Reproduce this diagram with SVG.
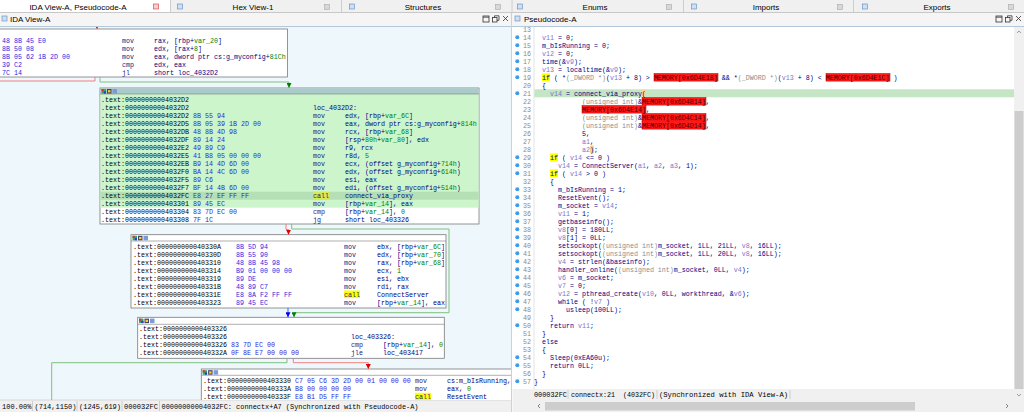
<svg xmlns="http://www.w3.org/2000/svg" width="1024" height="412" viewBox="0 0 1024 412">
<defs>
<style>
.m{font-family:"Liberation Mono","DejaVu Sans Mono",monospace;font-size:6.67px;white-space:pre}
.st{font-family:"Liberation Mono","DejaVu Sans Mono",monospace;font-size:7px;fill:#000;white-space:pre}
.s{font-family:"Liberation Sans","Noto Sans",sans-serif;font-size:8px;fill:#000}
.ad{fill:#000}
.hx{fill:#2a2ae0}
.mn{fill:#22227a}
.op{fill:#000080}
.gr{fill:#008000}
.nb{fill:#000080}
.lv{fill:#7878c8}
.ty{fill:#8c8c8c}
.mem{fill:#4a0000}
.ln{fill:#8a8a8a}
.blk{fill:#fff;stroke:#7a7a7a;stroke-width:0.8}
.hl{stroke:#7a7a7a;stroke-width:0.6}
.dot{fill:#3d9be9}
.cR{fill:none;stroke:#f08080;stroke-width:1}
.cG{fill:none;stroke:#80c080;stroke-width:1}
.cB{fill:none;stroke:#4060ff;stroke-width:1}
.memr{fill:#ff1a1a;stroke:#b00000;stroke-width:0.5}
.yl{fill:#ffff00}
.br{fill:#ffd090}
.cls{fill:#d8d8d8;stroke:#a8a8a8;stroke-width:0.6}
.tic{fill:#cfe0f4;stroke:#5a86c0;stroke-width:0.6}
.wi{fill:none;stroke:#333;stroke-width:0.8}
.sep{stroke:#c4c4c4;stroke-width:0.8}
</style>
<marker id="aR" markerWidth="6" markerHeight="5" refX="5" refY="2.5" orient="auto" markerUnits="userSpaceOnUse"><path d="M0,0L5,2.5L0,5z" fill="#e00000"/></marker>
<marker id="aG" markerWidth="6" markerHeight="5" refX="5" refY="2.5" orient="auto" markerUnits="userSpaceOnUse"><path d="M0,0L5,2.5L0,5z" fill="#008000"/></marker>
<marker id="aB" markerWidth="6" markerHeight="5" refX="5" refY="2.5" orient="auto" markerUnits="userSpaceOnUse"><path d="M0,0L5,2.5L0,5z" fill="#0000ff"/></marker>
<g id="hi"><rect x="0" y="0" width="4.5" height="4.5" fill="#3a6"/><rect x="0" y="0" width="2.2" height="2.2" fill="#d33"/><rect x="2.3" y="2.3" width="2.2" height="2.2" fill="#33d"/><rect x="5.5" y="0" width="4.5" height="4.5" fill="#446"/><rect x="6.5" y="1.2" width="2.5" height="2.2" fill="#fc3"/><rect x="11" y="0" width="4.5" height="4.5" fill="#7a9ad8"/></g>
<clipPath id="clipL"><rect x="0" y="27" width="511" height="373"/></clipPath>
</defs>

<g id="tabs">
<rect x="0" y="0" width="1024" height="13" fill="#f0f0f0"/>
<rect x="0" y="0" width="170" height="13" fill="#fff"/>
<line class="sep" x1="170.5" y1="0" x2="170.5" y2="12"/>
<line class="sep" x1="341.5" y1="0" x2="341.5" y2="12"/>
<line class="sep" x1="512" y1="0" x2="512" y2="12"/>
<line class="sep" x1="683.5" y1="0" x2="683.5" y2="12"/>
<line class="sep" x1="853.5" y1="0" x2="853.5" y2="12"/>
<line x1="0" y1="12.5" x2="1024" y2="12.5" stroke="#c8c8c8" stroke-width="1"/>
<text class="s" x="78" y="10" text-anchor="middle">IDA View-A, Pseudocode-A</text>
<rect x="153.5" y="4" width="5" height="5" fill="#f6d0d0" stroke="#e05050" stroke-width="0.7"/>
<rect class="tic" x="177.5" y="4" width="5" height="5"/>
<text class="s" x="253" y="10" text-anchor="middle">Hex View-1</text>
<rect class="cls" x="324.5" y="4.5" width="5" height="5"/>
<rect class="tic" x="349.5" y="4" width="5" height="5"/>
<text class="s" x="423" y="10" text-anchor="middle">Structures</text>
<rect class="cls" x="495.5" y="4.5" width="5" height="5"/>
<rect class="tic" x="517.5" y="4" width="5" height="5"/>
<text class="s" x="595" y="10" text-anchor="middle">Enums</text>
<rect class="cls" x="666.5" y="4.5" width="5" height="5"/>
<rect class="tic" x="691.5" y="4" width="5" height="5"/>
<text class="s" x="766" y="10" text-anchor="middle">Imports</text>
<rect class="cls" x="837.5" y="4.5" width="5" height="5"/>
<rect class="tic" x="862.5" y="4" width="5" height="5"/>
<text class="s" x="937" y="10" text-anchor="middle">Exports</text>
<rect class="cls" x="1008.5" y="4.5" width="5" height="5"/>
</g>

<g id="panel-left">
<rect x="0" y="13" width="511" height="14" fill="#f5f5f5"/>
<line x1="0" y1="26.5" x2="511" y2="26.5" stroke="#b4c8dc" stroke-width="1"/>
<rect class="tic" x="2" y="16" width="5" height="5"/>
<text class="s" x="10" y="21.6">IDA View-A</text>
<rect class="wi" x="483" y="16" width="6" height="6"/><line class="wi" x1="483" y1="17.2" x2="489" y2="17.2"/>
<rect class="wi" x="492.5" y="17.5" width="4.5" height="4.5"/><path class="wi" d="M494.5,17.5V15.8H499V20.3H497"/>
<path class="wi" d="M503,16L508,21M508,16L503,21"/>
<rect x="0" y="27" width="511" height="373" fill="#eef7fc"/>
<rect x="0" y="400" width="511" height="12" fill="#f0f0f0"/>
<line x1="0" y1="400" x2="511" y2="400" stroke="#d0d0d0" stroke-width="0.8"/>
<text class="st" x="2" y="408.6">100.00%</text>
<line class="sep" x1="32.5" y1="401" x2="32.5" y2="411"/>
<text class="st" x="34.5" y="408.6">(714,1150)</text>
<line class="sep" x1="77" y1="401" x2="77" y2="411"/>
<text class="st" x="79" y="408.6">(1245,619)</text>
<line class="sep" x1="122" y1="401" x2="122" y2="411"/>
<text class="st" x="124" y="408.6" textLength="34" lengthAdjust="spacingAndGlyphs">000032FC</text>
<line class="sep" x1="159.5" y1="401" x2="159.5" y2="411"/>
<text class="st" x="161.5" y="408.6" textLength="257" lengthAdjust="spacingAndGlyphs">00000000004032FC: connectx+A7 (Synchronized with Pseudocode-A)</text>
<line x1="511.5" y1="13" x2="511.5" y2="412" stroke="#d0d0d0" stroke-width="1"/>
</g>

<g clip-path="url(#clipL)">
<g id="node-4032C6">
<rect class="blk" x="-2" y="29" width="289.5" height="48"/>
<text class="m hx" x="2" y="42.8">48 8B 45 E0</text><text class="m mn" x="122" y="42.8">mov</text><text class="m op" x="154" y="42.8">rax, [rbp+<tspan class="gr">var_20</tspan>]</text>
<text class="m hx" x="2" y="50.8">8B 50 08</text><text class="m mn" x="122" y="50.8">mov</text><text class="m op" x="154" y="50.8">edx, [rax+<tspan class="gr">8</tspan>]</text>
<text class="m hx" x="2" y="58.8">8B 05 62 1B 2D 00</text><text class="m mn" x="122" y="58.8">mov</text><text class="m op" x="154" y="58.8">eax, dword ptr cs:g_myconfig+<tspan class="gr">81Ch</tspan></text>
<text class="m hx" x="2" y="66.8">39 C2</text><text class="m mn" x="122" y="66.8">cmp</text><text class="m op" x="154" y="66.8">edx, eax</text>
<text class="m hx" x="2" y="74.8">7C 14</text><text class="m mn" x="122" y="74.8">jl</text><text class="m op" x="154" y="74.8">short loc_4032D2</text>
</g>

<g id="node-4032D2">
<rect class="blk" x="100" y="88" width="379" height="136"/>
<rect x="100.4" y="94" width="378.2" height="113.7" fill="#ccf5cc"/>
<rect x="100.4" y="191.7" width="378.2" height="8" fill="#b5dfb5"/>
<rect x="100.4" y="88.4" width="378.2" height="5.6" fill="#a8cccc"/>
<line class="hl" x1="100" y1="94" x2="479" y2="94"/>
<use href="#hi" x="101.5" y="89"/>
<rect x="313" y="191.9" width="16" height="7.6" fill="#dce850"/>
<text class="m ad" x="101" y="102.2">.text:00000000004032D2</text>
<text class="m ad" x="101" y="110.2">.text:00000000004032D2</text><text class="m op" x="313" y="110.2">loc_4032D2:</text>
<text class="m ad" x="101" y="118.2">.text:00000000004032D2</text><text class="m hx" x="193" y="118.2">8B 55 94</text><text class="m mn" x="313" y="118.2">mov</text><text class="m op" x="345" y="118.2">edx, [rbp+<tspan class="gr">var_6C</tspan>]</text>
<text class="m ad" x="101" y="126.2">.text:00000000004032D5</text><text class="m hx" x="193" y="126.2">8B 05 39 1B 2D 00</text><text class="m mn" x="313" y="126.2">mov</text><text class="m op" x="345" y="126.2">eax, dword ptr cs:g_myconfig+<tspan class="gr">814h</tspan></text>
<text class="m ad" x="101" y="134.2">.text:00000000004032DB</text><text class="m hx" x="193" y="134.2">48 8B 4D 98</text><text class="m mn" x="313" y="134.2">mov</text><text class="m op" x="345" y="134.2">rcx, [rbp+<tspan class="gr">var_68</tspan>]</text>
<text class="m ad" x="101" y="142.2">.text:00000000004032DF</text><text class="m hx" x="193" y="142.2">89 14 24</text><text class="m mn" x="313" y="142.2">mov</text><text class="m op" x="345" y="142.2">[rsp+<tspan class="gr">80h</tspan>+<tspan class="gr">var_80</tspan>], edx</text>
<text class="m ad" x="101" y="150.2">.text:00000000004032E2</text><text class="m hx" x="193" y="150.2">49 89 C9</text><text class="m mn" x="313" y="150.2">mov</text><text class="m op" x="345" y="150.2">r9, rcx</text>
<text class="m ad" x="101" y="158.2">.text:00000000004032E5</text><text class="m hx" x="193" y="158.2">41 B8 05 00 00 00</text><text class="m mn" x="313" y="158.2">mov</text><text class="m op" x="345" y="158.2">r8d, <tspan class="gr">5</tspan></text>
<text class="m ad" x="101" y="166.2">.text:00000000004032EB</text><text class="m hx" x="193" y="166.2">B9 14 4D 6D 00</text><text class="m mn" x="313" y="166.2">mov</text><text class="m op" x="345" y="166.2">ecx, (offset g_myconfig+<tspan class="gr">714h</tspan>)</text>
<text class="m ad" x="101" y="174.2">.text:00000000004032F0</text><text class="m hx" x="193" y="174.2">BA 14 4C 6D 00</text><text class="m mn" x="313" y="174.2">mov</text><text class="m op" x="345" y="174.2">edx, (offset g_myconfig+<tspan class="gr">614h</tspan>)</text>
<text class="m ad" x="101" y="182.2">.text:00000000004032F5</text><text class="m hx" x="193" y="182.2">89 C6</text><text class="m mn" x="313" y="182.2">mov</text><text class="m op" x="345" y="182.2">esi, eax</text>
<text class="m ad" x="101" y="190.2">.text:00000000004032F7</text><text class="m hx" x="193" y="190.2">BF 14 4B 6D 00</text><text class="m mn" x="313" y="190.2">mov</text><text class="m op" x="345" y="190.2">edi, (offset g_myconfig+<tspan class="gr">514h</tspan>)</text>
<text class="m ad" x="101" y="198.2">.text:00000000004032FC</text><text class="m hx" x="193" y="198.2">E8 27 EF FF FF</text><text class="m mn" x="313" y="198.2">call</text><text class="m op" x="345" y="198.2">connect_via_proxy</text>
<text class="m ad" x="101" y="206.2">.text:0000000000403301</text><text class="m hx" x="193" y="206.2">89 45 EC</text><text class="m mn" x="313" y="206.2">mov</text><text class="m op" x="345" y="206.2">[rbp+<tspan class="gr">var_14</tspan>], eax</text>
<text class="m ad" x="101" y="214.2">.text:0000000000403304</text><text class="m hx" x="193" y="214.2">83 7D EC 00</text><text class="m mn" x="313" y="214.2">cmp</text><text class="m op" x="345" y="214.2">[rbp+<tspan class="gr">var_14</tspan>], <tspan class="gr">0</tspan></text>
<text class="m ad" x="101" y="222.2">.text:0000000000403308</text><text class="m hx" x="193" y="222.2">7F 1C</text><text class="m mn" x="313" y="222.2">jg</text><text class="m op" x="345" y="222.2">short loc_403326</text>
</g>

<g id="node-40330A">
<rect class="blk" x="131" y="234.7" width="315" height="73.3"/>
<line class="hl" x1="131" y1="241" x2="446" y2="241"/>
<use href="#hi" x="132.5" y="235.8"/>
<rect x="344" y="290.5" width="16" height="7.6" class="yl"/>
<text class="m ad" x="133" y="248.8">.text:000000000040330A</text><text class="m hx" x="236" y="248.8">8B 5D 94</text><text class="m mn" x="344" y="248.8">mov</text><text class="m op" x="377" y="248.8">ebx, [rbp+<tspan class="gr">var_6C</tspan>]</text>
<text class="m ad" x="133" y="256.8">.text:000000000040330D</text><text class="m hx" x="236" y="256.8">8B 55 90</text><text class="m mn" x="344" y="256.8">mov</text><text class="m op" x="377" y="256.8">edx, [rbp+<tspan class="gr">var_70</tspan>]</text>
<text class="m ad" x="133" y="264.8">.text:0000000000403310</text><text class="m hx" x="236" y="264.8">48 8B 45 98</text><text class="m mn" x="344" y="264.8">mov</text><text class="m op" x="377" y="264.8">rax, [rbp+<tspan class="gr">var_68</tspan>]</text>
<text class="m ad" x="133" y="272.8">.text:0000000000403314</text><text class="m hx" x="236" y="272.8">B9 01 00 00 00</text><text class="m mn" x="344" y="272.8">mov</text><text class="m op" x="377" y="272.8">ecx, <tspan class="gr">1</tspan></text>
<text class="m ad" x="133" y="280.8">.text:0000000000403319</text><text class="m hx" x="236" y="280.8">89 DE</text><text class="m mn" x="344" y="280.8">mov</text><text class="m op" x="377" y="280.8">esi, ebx</text>
<text class="m ad" x="133" y="288.8">.text:000000000040331B</text><text class="m hx" x="236" y="288.8">48 89 C7</text><text class="m mn" x="344" y="288.8">mov</text><text class="m op" x="377" y="288.8">rdi, rax</text>
<text class="m ad" x="133" y="296.8">.text:000000000040331E</text><text class="m hx" x="236" y="296.8">E8 8A F2 FF FF</text><text class="m mn" x="344" y="296.8">call</text><text class="m op" x="377" y="296.8">ConnectServer</text>
<text class="m ad" x="133" y="304.8">.text:0000000000403323</text><text class="m hx" x="236" y="304.8">89 45 EC</text><text class="m mn" x="344" y="304.8">mov</text><text class="m op" x="377" y="304.8">[rbp+<tspan class="gr">var_14</tspan>], eax</text>
</g>

<g id="node-403326">
<rect class="blk" x="137.7" y="317.3" width="306.6" height="41"/>
<line class="hl" x1="137.7" y1="324.3" x2="444.3" y2="324.3"/>
<use href="#hi" x="139" y="318.6"/>
<text class="m ad" x="139" y="331">.text:0000000000403326</text>
<text class="m ad" x="139" y="339">.text:0000000000403326</text><text class="m op" x="351" y="339">loc_403326:</text>
<text class="m ad" x="139" y="347">.text:0000000000403326</text><text class="m hx" x="231" y="347">83 7D EC 00</text><text class="m mn" x="351" y="347">cmp</text><text class="m op" x="383" y="347">[rbp+<tspan class="gr">var_14</tspan>], <tspan class="gr">0</tspan></text>
<text class="m ad" x="139" y="355">.text:000000000040332A</text><text class="m hx" x="231" y="355">0F 8E E7 00 00 00</text><text class="m mn" x="351" y="355">jle</text><text class="m op" x="383" y="355">loc_403417</text>
</g>

<g id="node-403330">
<rect class="blk" x="201.3" y="369" width="330" height="60"/>
<line class="hl" x1="201.3" y1="375.3" x2="531" y2="375.3"/>
<use href="#hi" x="202.6" y="370.2"/>
<rect x="415" y="392.8" width="16" height="7.6" class="yl"/>
<text class="m ad" x="203" y="383.2">.text:0000000000403330</text><text class="m hx" x="295" y="383.2">C7 05 C6 3D 2D 00 01 00 00 00</text><text class="m mn" x="415" y="383.2">mov</text><text class="m op" x="447" y="383.2">cs:m_bIsRunning,</text>
<text class="m ad" x="203" y="391.2">.text:000000000040333A</text><text class="m hx" x="295" y="391.2">B8 00 00 00 00</text><text class="m mn" x="415" y="391.2">mov</text><text class="m op" x="447" y="391.2">eax, <tspan class="gr">0</tspan></text>
<text class="m ad" x="203" y="399.2">.text:000000000040333F</text><text class="m hx" x="295" y="399.2">E8 B1 D5 FF FF</text><text class="m mn" x="415" y="399.2">call</text><text class="m op" x="447" y="399.2">ResetEvent</text>
</g>

<g id="connectors">
<polyline class="cR" points="97,23 97,29" marker-end="url(#aR)"/>
<polyline class="cR" points="95,77 95,81 -2,81"/>
<polyline class="cG" points="100,77 100,82 289,82 289,88" marker-end="url(#aG)"/>
<polyline class="cR" points="286,224 286,229.5 288.5,229.5 288.5,234.7" marker-end="url(#aR)"/>
<polyline class="cG" points="291.7,224 291.7,229 449,229 449,312.7 294,312.7 294,317.3" marker-end="url(#aG)"/>
<polyline class="cB" points="288,308 288,317.3" marker-end="url(#aB)"/>
<polyline class="cG" points="287,358.3 287,362.7 51.7,362.7 51.7,402"/>
<polyline class="cR" points="293.3,358.3 293.3,362.7 368.3,362.7 368.3,369" marker-end="url(#aR)"/>
</g>
</g>

<g id="panel-right">
<rect x="512" y="13" width="512" height="14" fill="#f5f5f5"/>
<line x1="512" y1="26.5" x2="1024" y2="26.5" stroke="#b4c8dc" stroke-width="1"/>
<rect class="tic" x="515" y="16" width="5" height="5"/>
<text class="s" x="524" y="21.6">Pseudocode-A</text>
<rect class="wi" x="996" y="16" width="6" height="6"/><line class="wi" x1="996" y1="17.2" x2="1002" y2="17.2"/>
<rect class="wi" x="1005.5" y="17.5" width="4.5" height="4.5"/><path class="wi" d="M1007.5,17.5V15.8H1012V20.3H1010"/>
<path class="wi" d="M1016,16L1021,21M1021,16L1016,21"/>
<rect x="512.5" y="27" width="501.5" height="362" fill="#fff"/>
<line x1="534" y1="27" x2="534" y2="389" stroke="#dcdcdc" stroke-width="0.8"/>
<rect x="534.4" y="89.3" width="479.6" height="8" fill="#c4e6c4"/>
<rect x="1014" y="27" width="10" height="373" fill="#f0f0f0"/>
<rect x="1014.5" y="111" width="9" height="278" fill="#cdcdcd"/>
<path d="M1017,33L1019,31L1021,33" fill="none" stroke="#777" stroke-width="0.7"/>
<path d="M1017,394L1019,396L1021,394" fill="none" stroke="#777" stroke-width="0.7"/>
<rect x="512.5" y="389" width="501.5" height="11" fill="#f0f0f0"/>
<text class="st" x="534" y="397" textLength="33" lengthAdjust="spacingAndGlyphs">000032FC</text>
<line class="sep" x1="568" y1="390" x2="568" y2="399"/>
<text class="st" x="571" y="397" textLength="84" lengthAdjust="spacingAndGlyphs">connectx:21  (4032FC)</text>
<line class="sep" x1="657" y1="390" x2="657" y2="399"/>
<text class="st" x="659" y="397" textLength="129" lengthAdjust="spacingAndGlyphs">(Synchronized with IDA View-A)</text>
<line class="sep" x1="790" y1="390" x2="790" y2="399"/>
<rect x="512.5" y="400" width="511.5" height="12" fill="#f0f0f0"/>
<rect x="545" y="402" width="370" height="8.5" fill="#cdcdcd"/>
<path d="M540,404L538,406L540,408" fill="none" stroke="#555" stroke-width="0.7"/>
<path d="M1006,404L1008,406L1006,408" fill="none" stroke="#555" stroke-width="0.7"/>
</g>

<g id="pseudocode">
<g class="m ln" text-anchor="end">
<text x="531" y="31.8">13</text><text x="531" y="39.8">14</text><text x="531" y="47.8">15</text><text x="531" y="55.8">16</text><text x="531" y="63.8">17</text><text x="531" y="71.8">18</text><text x="531" y="79.8">19</text><text x="531" y="87.8">20</text><text x="531" y="95.8">21</text><text x="531" y="103.8">22</text><text x="531" y="111.8">23</text><text x="531" y="119.8">24</text><text x="531" y="127.8">25</text><text x="531" y="135.8">26</text><text x="531" y="143.8">27</text><text x="531" y="151.8">28</text><text x="531" y="159.8">29</text><text x="531" y="167.8">30</text><text x="531" y="175.8">31</text><text x="531" y="183.8">32</text><text x="531" y="191.8">33</text><text x="531" y="199.8">34</text><text x="531" y="207.8">35</text><text x="531" y="215.8">36</text><text x="531" y="223.8">37</text><text x="531" y="231.8">38</text><text x="531" y="239.8">39</text><text x="531" y="247.8">40</text><text x="531" y="255.8">41</text><text x="531" y="263.8">42</text><text x="531" y="271.8">43</text><text x="531" y="279.8">44</text><text x="531" y="287.8">45</text><text x="531" y="295.8">46</text><text x="531" y="303.8">47</text><text x="531" y="311.8">48</text><text x="531" y="319.8">49</text><text x="531" y="327.8">50</text><text x="531" y="335.8">51</text><text x="531" y="343.8">52</text><text x="531" y="351.8">53</text><text x="531" y="359.8">54</text><text x="531" y="367.8">55</text><text x="531" y="375.8">56</text><text x="531" y="383.8">57</text>
</g>
<g class="dot">
<circle cx="517.3" cy="37.3" r="2"/><circle cx="517.3" cy="45.3" r="2"/><circle cx="517.3" cy="53.3" r="2"/><circle cx="517.3" cy="61.3" r="2"/><circle cx="517.3" cy="69.3" r="2"/><circle cx="517.3" cy="77.3" r="2"/><circle cx="517.3" cy="93.3" r="2"/><circle cx="517.3" cy="157.3" r="2"/><circle cx="517.3" cy="165.3" r="2"/><circle cx="517.3" cy="173.3" r="2"/><circle cx="517.3" cy="189.3" r="2"/><circle cx="517.3" cy="197.3" r="2"/><circle cx="517.3" cy="205.3" r="2"/><circle cx="517.3" cy="213.3" r="2"/><circle cx="517.3" cy="221.3" r="2"/><circle cx="517.3" cy="229.3" r="2"/><circle cx="517.3" cy="237.3" r="2"/><circle cx="517.3" cy="245.3" r="2"/><circle cx="517.3" cy="253.3" r="2"/><circle cx="517.3" cy="261.3" r="2"/><circle cx="517.3" cy="269.3" r="2"/><circle cx="517.3" cy="277.3" r="2"/><circle cx="517.3" cy="285.3" r="2"/><circle cx="517.3" cy="293.3" r="2"/><circle cx="517.3" cy="301.3" r="2"/><circle cx="517.3" cy="309.3" r="2"/><circle cx="517.3" cy="325.3" r="2"/><circle cx="517.3" cy="357.3" r="2"/><circle cx="517.3" cy="365.3" r="2"/><circle cx="517.3" cy="381.3" r="2"/>
</g>
<rect class="yl" x="542" y="73.4" width="8" height="7.8"/>
<rect class="memr" x="654" y="73.5" width="64" height="7.6"/>
<rect class="memr" x="826" y="73.5" width="64" height="7.6"/>
<rect class="br" x="642" y="89.5" width="4" height="7.6"/>
<rect class="memr" x="642" y="97.5" width="64" height="7.6"/>
<rect class="memr" x="582" y="105.5" width="64" height="7.6"/>
<rect class="memr" x="642" y="113.5" width="64" height="7.6"/>
<rect class="memr" x="642" y="121.5" width="64" height="7.6"/>
<rect class="br" x="590" y="145.5" width="4" height="7.6"/>
<rect class="yl" x="550" y="153.4" width="8" height="7.8"/>
<rect class="yl" x="550" y="169.4" width="8" height="7.8"/>
<g class="m nb">
<text x="542" y="39.8"><tspan class="lv">v11</tspan> = 0;</text>
<text x="542" y="47.8">m_bIsRunning = 0;</text>
<text x="542" y="55.8"><tspan class="lv">v12</tspan> = 0;</text>
<text x="542" y="63.8">time(&amp;<tspan class="lv">v9</tspan>);</text>
<text x="542" y="71.8"><tspan class="lv">v13</tspan> = localtime(&amp;<tspan class="lv">v9</tspan>);</text>
<text x="542" y="79.8">if ( *<tspan class="ty">(_DWORD *)</tspan>(<tspan class="lv">v13</tspan> + 8) &gt; <tspan class="mem">MEMORY[0x6D4E18]</tspan> &amp;&amp; *<tspan class="ty">(_DWORD *)</tspan>(<tspan class="lv">v13</tspan> + 8) &lt; <tspan class="mem">MEMORY[0x6D4E1C]</tspan> )</text>
<text x="542" y="87.8">{</text>
<text x="550" y="95.8"><tspan class="lv">v14</tspan> = connect_via_proxy(</text>
<text x="582" y="103.8"><tspan class="ty">(unsigned int)</tspan>&amp;<tspan class="mem">MEMORY[0x6D4B14]</tspan>,</text>
<text x="582" y="111.8"><tspan class="mem">MEMORY[0x6D4E14]</tspan>,</text>
<text x="582" y="119.8"><tspan class="ty">(unsigned int)</tspan>&amp;<tspan class="mem">MEMORY[0x6D4C14]</tspan>,</text>
<text x="582" y="127.8"><tspan class="ty">(unsigned int)</tspan>&amp;<tspan class="mem">MEMORY[0x6D4D14]</tspan>,</text>
<text x="582" y="135.8">5,</text>
<text x="582" y="143.8"><tspan class="lv">a1</tspan>,</text>
<text x="582" y="151.8"><tspan class="lv">a2</tspan>);</text>
<text x="550" y="159.8">if ( <tspan class="lv">v14</tspan> &lt;= 0 )</text>
<text x="558" y="167.8"><tspan class="lv">v14</tspan> = ConnectServer(<tspan class="lv">a1</tspan>, <tspan class="lv">a2</tspan>, <tspan class="lv">a3</tspan>, 1);</text>
<text x="550" y="175.8">if ( <tspan class="lv">v14</tspan> &gt; 0 )</text>
<text x="550" y="183.8">{</text>
<text x="558" y="191.8">m_bIsRunning = 1;</text>
<text x="558" y="199.8">ResetEvent();</text>
<text x="558" y="207.8">m_socket = <tspan class="lv">v14</tspan>;</text>
<text x="558" y="215.8"><tspan class="lv">v11</tspan> = 1;</text>
<text x="558" y="223.8">getbaseinfo();</text>
<text x="558" y="231.8"><tspan class="lv">v8</tspan>[0] = 180LL;</text>
<text x="558" y="239.8"><tspan class="lv">v8</tspan>[1] = 0LL;</text>
<text x="558" y="247.8">setsockopt(<tspan class="ty">(unsigned int)</tspan>m_socket, 1LL, 21LL, <tspan class="lv">v8</tspan>, 16LL);</text>
<text x="558" y="255.8">setsockopt(<tspan class="ty">(unsigned int)</tspan>m_socket, 1LL, 20LL, <tspan class="lv">v8</tspan>, 16LL);</text>
<text x="558" y="263.8"><tspan class="lv">v4</tspan> = strlen(&amp;baseinfo);</text>
<text x="558" y="271.8">handler_online(<tspan class="ty">(unsigned int)</tspan>m_socket, 0LL, <tspan class="lv">v4</tspan>);</text>
<text x="558" y="279.8"><tspan class="lv">v6</tspan> = m_socket;</text>
<text x="558" y="287.8"><tspan class="lv">v7</tspan> = 0;</text>
<text x="558" y="295.8"><tspan class="lv">v12</tspan> = pthread_create(<tspan class="lv">v10</tspan>, 0LL, workthread, &amp;<tspan class="lv">v6</tspan>);</text>
<text x="558" y="303.8">while ( !<tspan class="lv">v7</tspan> )</text>
<text x="566" y="311.8">usleep(100LL);</text>
<text x="550" y="319.8">}</text>
<text x="550" y="327.8">return <tspan class="lv">v11</tspan>;</text>
<text x="542" y="335.8">}</text>
<text x="542" y="343.8">else</text>
<text x="542" y="351.8">{</text>
<text x="550" y="359.8">Sleep(0xEA60u);</text>
<text x="550" y="367.8">return 0LL;</text>
<text x="542" y="375.8">}</text>
<text x="534" y="383.8">}</text>
</g>
</g>
</svg>
